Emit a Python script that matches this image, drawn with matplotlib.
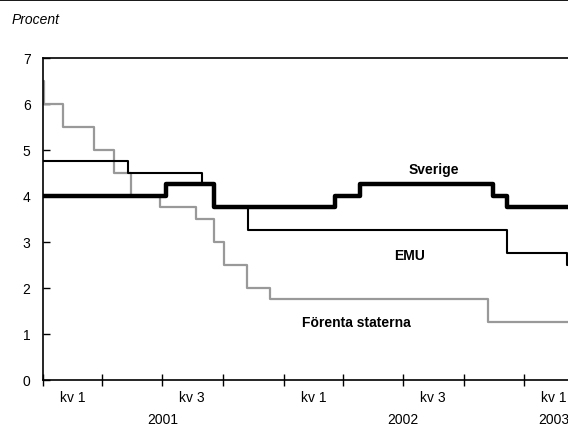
import matplotlib
matplotlib.use("Agg")
import matplotlib.pyplot as plt
import matplotlib.dates as mdates
import datetime as dt

# Policy rates, dates of change and new level (percent)
SE_DATES = ["2001-01-01", "2001-07-06", "2001-09-17", "2002-03-19", "2002-04-26",
            "2002-11-15", "2002-12-05"]
SE_RATES = [4.00, 4.25, 3.75, 4.00, 4.25, 4.00, 3.75]

EMU_DATES = ["2001-01-01", "2001-05-10", "2001-08-30", "2001-09-17", "2001-11-08",
             "2002-12-05", "2003-03-06"]
EMU_RATES = [4.75, 4.50, 4.25, 3.75, 3.25, 2.75, 2.50]

US_DATES = ["2001-01-01", "2001-01-03", "2001-01-31", "2001-03-20", "2001-04-18",
            "2001-05-15", "2001-06-27", "2001-08-21", "2001-09-17", "2001-10-02",
            "2001-11-06", "2001-12-11", "2002-11-06"]
US_RATES = [6.50, 6.00, 5.50, 5.00, 4.50, 4.00, 3.75, 3.50, 3.00, 2.50, 2.00,
            1.75, 1.25]

END_DATE = "2003-03-08"
QUARTER_LABELS = ["kv 1", "", "kv 3", ""]
YEARS = ["2001", "2002", "2003"]

FONT = ["Liberation Sans", "DejaVu Sans"]


def to_num(dates):
    return mdates.date2num([dt.datetime.fromisoformat(d) for d in dates])


def step_series(dates, rates):
    x = list(to_num(dates)) + [to_num([END_DATE])[0]]
    y = list(rates) + [rates[-1]]
    return x, y


fig = plt.figure(figsize=(5.68, 4.27), dpi=100)
ax = fig.add_axes([43 / 568, 1 - 381 / 427, 1 - 43 / 568, (381 - 58.5) / 427])

x, y = step_series(US_DATES, US_RATES)
ax.step(x, y, where="post", color="#999999", lw=1.6)
x, y = step_series(EMU_DATES, EMU_RATES)
ax.step(x, y, where="post", color="black", lw=1.5)
x, y = step_series(SE_DATES, SE_RATES)
ax.step(x, y, where="post", color="black", lw=3.2)

xmin = to_num(["2001-01-01"])[0]
xmax = to_num([END_DATE])[0]
ax.set_xlim(xmin, xmax)
ax.set_ylim(0, 7)

# quarter boundaries as ticks, labels at mid quarters
q_starts = [dt.datetime(yr, m, 1) for yr in (2001, 2002, 2003) for m in (1, 4, 7, 10)]
q_starts = [q for q in q_starts if mdates.date2num(q) <= xmax]
ax.set_xticks(mdates.date2num(q_starts))
ax.set_xticklabels([])
ax.tick_params(axis="x", direction="inout", length=9, width=1)

q_mids = [q + dt.timedelta(days=45) for q in q_starts]
mid_labels = [QUARTER_LABELS[(q.month - 1) // 3] for q in q_starts]
ax.set_xticks(mdates.date2num(q_mids), minor=True)
ax.set_xticklabels(mid_labels, minor=True, family=FONT, fontsize=10)
ax.tick_params(axis="x", which="minor", length=0, pad=7)

year_pos = [dt.datetime(2001, 7, 1), dt.datetime(2002, 7, 1), dt.datetime(2003, 2, 15)]
for pos, yr in zip(year_pos, YEARS):
    ax.text(mdates.date2num(pos), -0.121, yr, transform=ax.get_xaxis_transform(),
            ha="center", va="center", family=FONT, fontsize=10, clip_on=False)

ax.set_yticks(range(0, 8))
ax.set_yticklabels([str(v) for v in range(0, 8)], family=FONT, fontsize=10)
ax.tick_params(axis="y", direction="in", length=5, width=1, pad=9)

ax.spines["right"].set_visible(False)
for s in ("left", "bottom", "top"):
    ax.spines[s].set_linewidth(1.2)

ax.text(mdates.date2num(dt.datetime(2002, 8, 16)), 4.59, "Sverige", ha="center",
        va="center", family=FONT, fontsize=10, fontweight="bold")
ax.text(mdates.date2num(dt.datetime(2002, 7, 11)), 2.72, "EMU", ha="center",
        va="center", family=FONT, fontsize=10, fontweight="bold")
ax.text(mdates.date2num(dt.datetime(2002, 4, 21)), 1.25, "Förenta staterna", ha="center",
        va="center", family=FONT, fontsize=10, fontweight="bold")

fig.text(12 / 568, 1 - 20 / 427, "Procent", ha="left", va="center",
         fontsize=10, style="italic", family=FONT)

# rule at top of page
fig.add_artist(plt.Line2D([0, 1], [0.999, 0.999], transform=fig.transFigure,
                          color="black", lw=2))

fig.savefig("out.png", dpi=100)
